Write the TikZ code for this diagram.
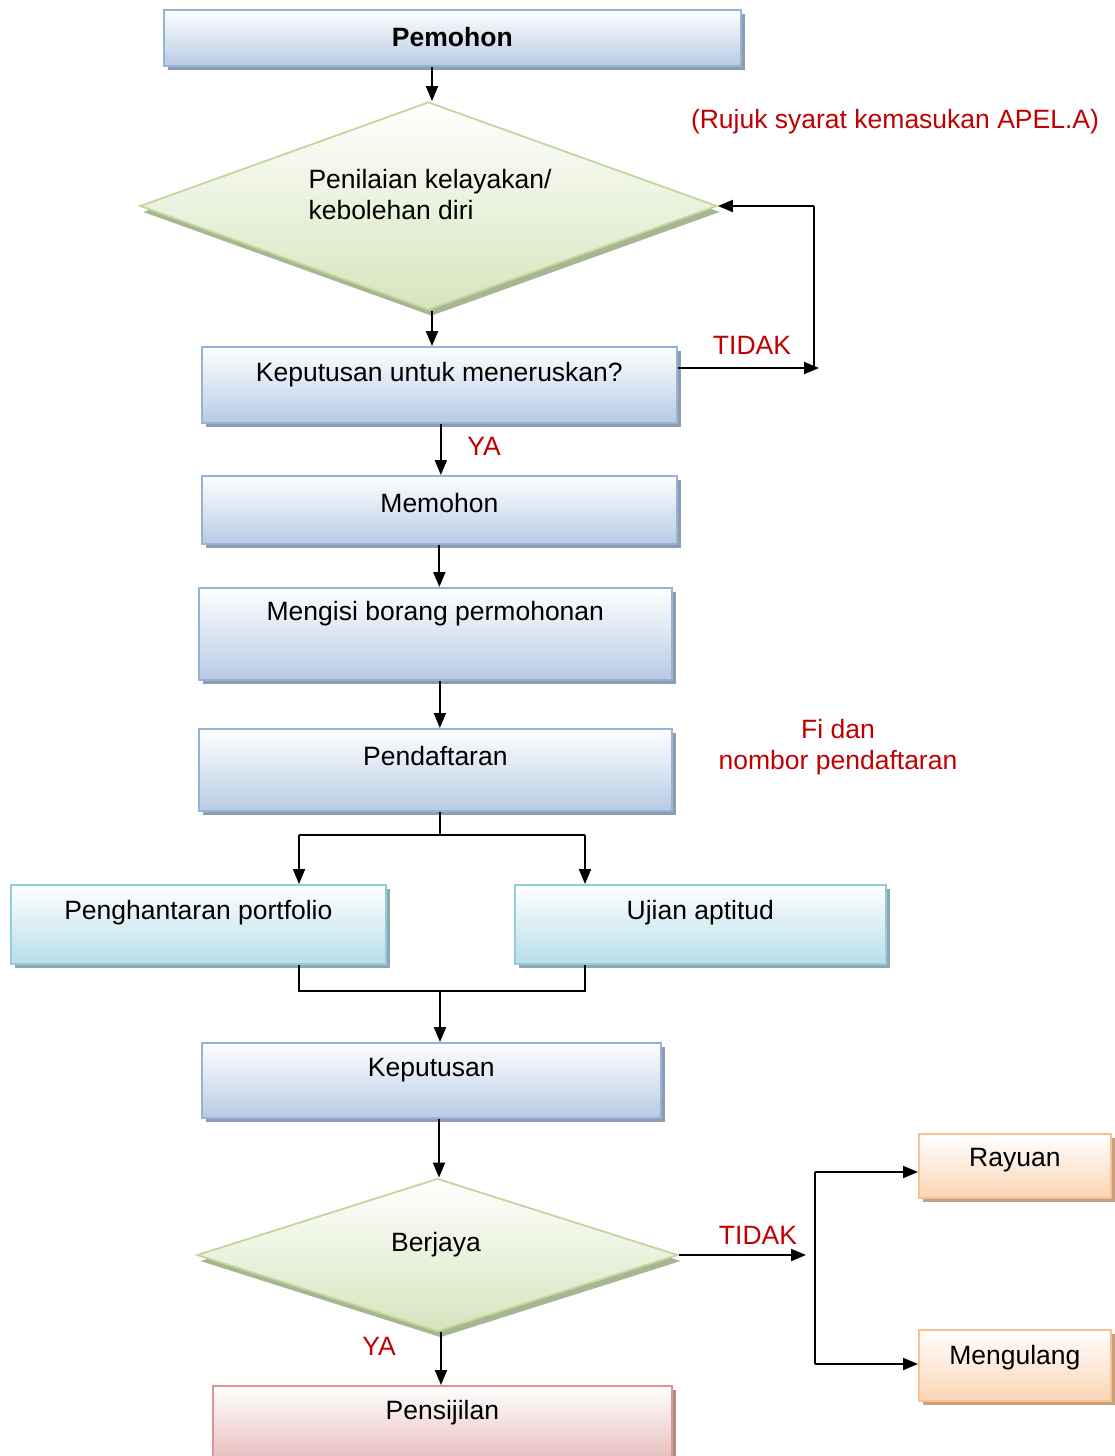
\documentclass[tikz,border=0pt]{standalone}
\usepackage{fontspec}
\setmainfont{Liberation Sans}
\usetikzlibrary{arrows.meta,shapes.geometric,shadows}

\definecolor{bluebot}{HTML}{B7CBE4}
\definecolor{bluebd}{HTML}{95B3D7}
\definecolor{blueshd}{HTML}{8E9CB0}
\definecolor{cyanbot}{HTML}{B7DEE8}
\definecolor{cyanbd}{HTML}{93CDDD}
\definecolor{cyanshd}{HTML}{8FA8AD}
\definecolor{greenbot}{HTML}{D7E4BD}
\definecolor{greenbd}{HTML}{C3D69B}
\definecolor{greenshd}{HTML}{A6B592}
\definecolor{orangebot}{HTML}{FCD5B5}
\definecolor{orangebd}{HTML}{FAC090}
\definecolor{orangeshd}{HTML}{C9A07E}
\definecolor{pinkbot}{HTML}{E6B9B8}
\definecolor{pinkbd}{HTML}{D99694}
\definecolor{pinkshd}{HTML}{B08A89}
\definecolor{tred}{HTML}{C00000}

\tikzset{
  txt/.style={font=\fontsize{26.5}{31}\selectfont, text=black},
  redtxt/.style={txt, text=tred},
  box/.style={rectangle, anchor=north west, inner sep=0pt, line width=1.7pt},
  bluebox/.style={box, draw=bluebd, top color=white, bottom color=bluebot,
    general shadow={fill=blueshd, shadow xshift=4pt, shadow yshift=-4pt}},
  cyanbox/.style={box, draw=cyanbd, top color=white, bottom color=cyanbot,
    general shadow={fill=cyanshd, shadow xshift=4pt, shadow yshift=-4pt}},
  orangebox/.style={box, draw=orangebd, top color=white, bottom color=orangebot,
    general shadow={fill=orangeshd, shadow xshift=4pt, shadow yshift=-4pt}},
  pinkbox/.style={box, draw=pinkbd, top color=white, bottom color=pinkbot,
    general shadow={fill=pinkshd, shadow xshift=4pt, shadow yshift=-4pt}},
  decision/.style={diamond, inner sep=0pt, line width=1.8pt, draw=greenbd,
    top color=white, bottom color=greenbot,
    general shadow={fill=greenshd, shadow xshift=3pt, shadow yshift=-6pt}},
  arr/.style={line width=2pt, -{Triangle[length=15pt,width=12pt]}},
  ln/.style={line width=1.6pt},
}

\begin{document}
\begin{tikzpicture}[x=1pt, y=-1pt]
\useasboundingbox (0,0) rectangle (1114,1456);

% process boxes
\node[bluebox, minimum width=577pt, minimum height=56pt,
  label={[txt, font=\fontsize{26.5}{31}\selectfont\bfseries, anchor=center, yshift=-28pt]north:Pemohon}]
  (pemohon) at (163,9) {};
\node[decision, minimum width=577pt, minimum height=208pt] (nilai) at (428.5,206) {};
\node[txt, align=left, anchor=west] (nilaitext) at (305,195) {Penilaian kelayakan/\\kebolehan diri};

\node[bluebox, minimum width=475pt, minimum height=76pt,
  label={[txt, anchor=center, yshift=-29pt]north:Keputusan untuk meneruskan?}]
  (teruskan) at (201,346) {};
\node[bluebox, minimum width=475pt, minimum height=68pt,
  label={[txt, anchor=center, yshift=-28pt]north:Memohon}]
  (memohon) at (201,475) {};
\node[bluebox, minimum width=473pt, minimum height=92pt,
  label={[txt, anchor=center, yshift=-27pt]north:Mengisi borang permohonan}]
  (borang) at (198,587) {};
\node[bluebox, minimum width=473pt, minimum height=82pt,
  label={[txt, anchor=center, yshift=-28pt]north:Pendaftaran}]
  (daftar) at (198,728) {};

\node[cyanbox, minimum width=375pt, minimum height=79pt,
  label={[txt, anchor=center, yshift=-28.5pt]north:Penghantaran portfolio}]
  (portfolio) at (10,884) {};
\node[cyanbox, minimum width=371pt, minimum height=79pt,
  label={[txt, anchor=center, yshift=-28.5pt]north:Ujian aptitud}]
  (ujian) at (514,884) {};

\node[bluebox, minimum width=459pt, minimum height=75pt,
  label={[txt, anchor=center, yshift=-28.5pt]north:Keputusan}]
  (keputusan) at (201,1042) {};
\node[decision, minimum width=481pt, minimum height=153pt] (berjaya) at (437.5,1255) {};
\node[txt] (berjayatext) at (436,1245) {Berjaya};

\node[orangebox, minimum width=192pt, minimum height=64pt,
  label={[txt, anchor=center, yshift=-27.5pt]north:Rayuan}]
  (rayuan) at (918,1133) {};
\node[orangebox, minimum width=192pt, minimum height=71pt,
  label={[txt, anchor=center, yshift=-28.5pt]north:Mengulang}]
  (ulang) at (918,1329) {};
\node[pinkbox, minimum width=459pt, minimum height=80pt,
  label={[txt, anchor=center, yshift=-27.5pt]north:Pensijilan}]
  (sijil) at (212,1385) {};

% notes and branch labels
\node[redtxt] (rujuk) at (895,122) {(Rujuk syarat kemasukan APEL.A)};
\node[redtxt] (tidak1) at (752,345) {TIDAK};
\node[redtxt] (ya1) at (484,446) {YA};
\node[redtxt, align=center] (fi) at (838,747) {Fi dan\\nombor pendaftaran};
\node[redtxt] (tidak2) at (758,1235) {TIDAK};
\node[redtxt] (ya2) at (379,1346) {YA};

% junction points
\coordinate (loopT) at (814,206);
\coordinate (loopB) at (819,368);
\coordinate (split) at (440,835);
\coordinate (splitL) at (299,835);
\coordinate (splitR) at (585,835);
\coordinate (merge) at (440,991);
\coordinate (mergeL) at (299,991);
\coordinate (mergeR) at (585,991);
\coordinate (tidakEnd) at (806,1255);
\coordinate (brTop) at (815,1172);
\coordinate (brBot) at (815,1364);

% main flow
\draw[arr] ([xshift=3.5pt]nilai.north |- pemohon.south) -- ([xshift=3.5pt]nilai.north);
\draw[arr] ([xshift=3.5pt]nilai.south) -- ([xshift=3.5pt]nilai.south |- teruskan.north);
\draw[arr] ([xshift=1.5pt]teruskan.south) -- ([xshift=1.5pt]memohon.north);
\draw[arr] (memohon.south) -- (memohon.south |- borang.north);
\draw[arr] ([xshift=4.5pt]borang.south) -- ([xshift=4.5pt]daftar.north);

% loop back when not continuing
\draw[arr] (loopB -| teruskan.east) -- (loopB);
\draw[ln] (loopT |- loopB) -- (loopT);
\draw[arr] (loopT) -- (nilai.east);

% split to portfolio and aptitude test
\draw[ln] (split |- daftar.south) -- (split);
\draw[ln] (splitL) -- (splitR);
\draw[arr] (splitL) -- (splitL |- portfolio.north);
\draw[arr] (splitR) -- (splitR |- ujian.north);

% merge into the decision
\draw[ln] (mergeL |- portfolio.south) -- (mergeL) -- (mergeR) -- (mergeR |- ujian.south);
\draw[arr] (merge) -- (merge |- keputusan.north);

\draw[arr] ([xshift=1.5pt]berjaya.north |- keputusan.south) -- ([xshift=1.5pt]berjaya.north);
\draw[arr] ([xshift=3.5pt]berjaya.south) -- ([xshift=3.5pt]berjaya.south |- sijil.north);

% unsuccessful branch
\draw[arr] (berjaya.east) -- (tidakEnd);
\draw[ln] (brTop) -- (brBot);
\draw[arr] (brTop) -- (brTop -| rayuan.west);
\draw[arr] (brBot) -- (brBot -| ulang.west);
\end{tikzpicture}
\end{document}
